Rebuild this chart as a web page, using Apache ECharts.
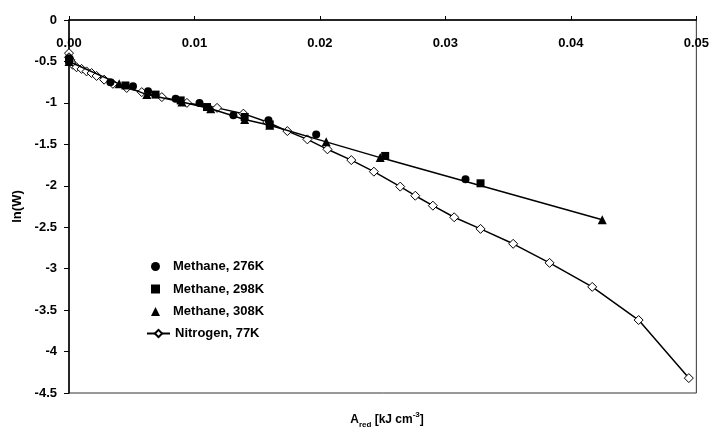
<!DOCTYPE html>
<html>
<head>
<meta charset="utf-8">
<script src="https://cdn.jsdelivr.net/npm/echarts@6/dist/echarts.min.js"></script>
<style>
  html, body { margin: 0; padding: 0; background: #fff; }
  #chart { width: 712px; height: 428px; }
</style>
</head>
<body>
<div id="chart"></div>
<script>
  // values: [A_red, ln(W)]
  var methane276 = [
    [0.0000, -0.46], [0.0033, -0.75], [0.0051, -0.80], [0.0063, -0.86],
    [0.0085, -0.95], [0.0104, -1.00], [0.0131, -1.15], [0.0159, -1.21],
    [0.0197, -1.38], [0.0316, -1.92]
  ];
  var methane298 = [
    [0.0000, -0.48], [0.0045, -0.79], [0.0069, -0.90], [0.0089, -0.97],
    [0.0110, -1.05], [0.0140, -1.17], [0.0160, -1.26], [0.0252, -1.64],
    [0.0328, -1.97]
  ];
  var methane308 = [
    [0.0000, -0.50], [0.0040, -0.77], [0.0062, -0.90], [0.0090, -0.99],
    [0.0113, -1.07], [0.0140, -1.20], [0.0160, -1.27], [0.0205, -1.47],
    [0.0248, -1.66], [0.0425, -2.41]
  ];
  var nitrogen77 = [
    [0.0000, -0.40], [0.0000, -0.45], [0.0001, -0.48], [0.0002, -0.51],
    [0.0003, -0.54], [0.0006, -0.57], [0.0010, -0.59], [0.0014, -0.62],
    [0.0018, -0.64], [0.0022, -0.675], [0.0028, -0.72], [0.0035, -0.77],
    [0.0046, -0.82], [0.0058, -0.87], [0.0074, -0.93], [0.0094, -1.00],
    [0.0118, -1.06], [0.0139, -1.13], [0.0158, -1.23], [0.0174, -1.34],
    [0.0190, -1.44], [0.0206, -1.56], [0.0225, -1.69], [0.0243, -1.83],
    [0.0264, -2.01], [0.0276, -2.12], [0.0290, -2.24], [0.0307, -2.38],
    [0.0328, -2.52], [0.0354, -2.70], [0.0383, -2.93], [0.0417, -3.22],
    [0.0454, -3.62], [0.0494, -4.32]
  ];
  var seriesNames = ['Methane, 276K', 'Methane, 298K', 'Methane, 308K', 'Nitrogen, 77K'];

  var font = 'Liberation Sans, Arial, sans-serif';
  var legendText = { fontFamily: font, fontWeight: 'bold', fontSize: 13, color: '#000' };
  var chart = echarts.init(document.getElementById('chart'));

  chart.setOption({
    animation: false,
    textStyle: { fontFamily: font },
    title: {
      left: 382,
      textAlign: 'center',
      top: 406,
      text: '{a|A}{s|red}{a| [kJ cm}{p|-3}{a|]}',
      textStyle: {
        rich: {
          a: { fontFamily: font, fontWeight: 'bold', fontSize: 12, color: '#000', lineHeight: 18, verticalAlign: 'middle' },
          s: { fontFamily: font, fontWeight: 'bold', fontSize: 8, color: '#000', verticalAlign: 'bottom', lineHeight: 18 },
          p: { fontFamily: font, fontWeight: 'bold', fontSize: 8, color: '#000', verticalAlign: 'top', lineHeight: 18 }
        }
      }
    },
    legend: [
      {
        // marker-only entries
        orient: 'vertical',
        left: 151,
        top: 260,
        padding: 0,
        itemWidth: 9,
        itemHeight: 9,
        itemGap: 9.5,
        textStyle: Object.assign({ padding: [0, 0, 0, 8] }, legendText),
        data: [
          { name: seriesNames[0], icon: 'circle' },
          { name: seriesNames[1], icon: 'rect' },
          { name: seriesNames[2], icon: 'triangle' }
        ]
      },
      {
        orient: 'vertical',
        left: 146,
        top: 327,
        padding: 0,
        itemWidth: 23,
        itemHeight: 9,
        textStyle: legendText,
        data: [seriesNames[3]]
      }
    ],
    grid: {
      left: 69, right: 15, top: 20, bottom: 35,
      show: true, borderColor: '#333', borderWidth: 1
    },
    xAxis: {
      type: 'value',
      position: 'top',
      min: 0, max: 0.05, interval: 0.01,
      axisLine: { onZero: false, lineStyle: { color: '#000', width: 1.5 } },
      axisTick: { show: true, inside: false, length: 4, lineStyle: { color: '#000' } },
      axisLabel: {
        inside: true, margin: 17,
        fontFamily: font, fontWeight: 'bold', fontSize: 13, color: '#000',
        formatter: function (v) { return v.toFixed(2); }
      },
      splitLine: { show: false }
    },
    yAxis: {
      type: 'value',
      min: -4.5, max: 0, interval: 0.5,
      name: 'ln(W)',
      nameLocation: 'middle',
      nameGap: 38,
      nameTextStyle: { fontFamily: font, fontWeight: 'bold', fontSize: 13, color: '#000' },
      axisLine: { show: true, onZero: false, lineStyle: { color: '#000', width: 1.5 } },
      axisTick: { show: true, inside: false, length: 5, lineStyle: { color: '#000' } },
      axisLabel: { margin: 12, fontFamily: font, fontWeight: 'bold', fontSize: 13, color: '#000' },
      splitLine: { show: false }
    },
    series: [
      {
        name: seriesNames[0], type: 'scatter', data: methane276,
        symbol: 'circle', symbolSize: 8,
        itemStyle: { color: '#000', opacity: 1 }, z: 3
      },
      {
        name: seriesNames[1], type: 'scatter', data: methane298,
        symbol: 'rect', symbolSize: 8,
        itemStyle: { color: '#000', opacity: 1 }, z: 3
      },
      {
        name: seriesNames[2], type: 'line', data: methane308,
        symbol: 'triangle', symbolSize: 9, showAllSymbol: true,
        lineStyle: { color: '#000', width: 1.5 },
        itemStyle: { color: '#000', opacity: 1 }, z: 3
      },
      {
        name: seriesNames[3], type: 'line', data: nitrogen77,
        symbol: 'diamond', symbolSize: 9, showAllSymbol: true,
        lineStyle: { color: '#000', width: 1.5 },
        itemStyle: { color: '#fff', borderColor: '#000', borderWidth: 1 }, z: 2
      }
    ]
  });
</script>
</body>
</html>
